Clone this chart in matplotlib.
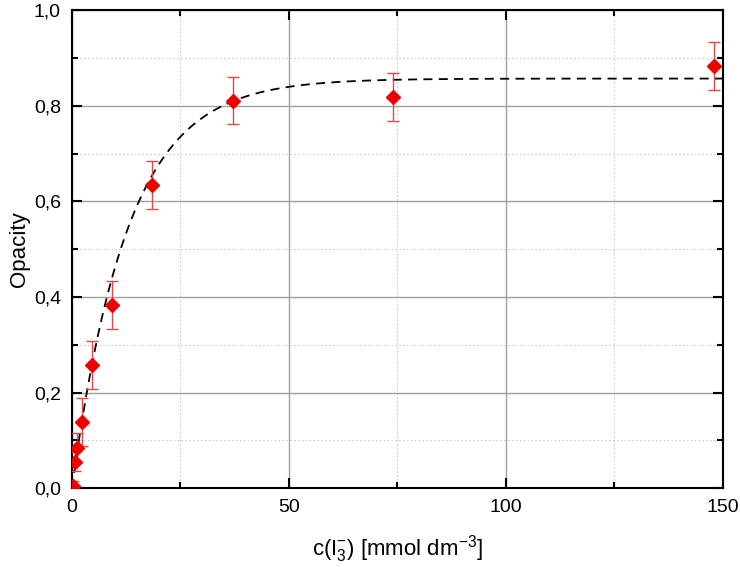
import numpy as np
import matplotlib
matplotlib.use('Agg')
import matplotlib.pyplot as plt
from matplotlib.ticker import MultipleLocator, FuncFormatter

# data
conc = [0.29, 0.58, 1.16, 2.31, 4.63, 9.25, 18.5, 37.0, 74.0, 148.0]
opacity = [0.004, 0.055, 0.085, 0.139, 0.258, 0.384, 0.634, 0.811, 0.818, 0.884]
err = [0.01, 0.02, 0.03, 0.05, 0.05, 0.05, 0.05, 0.05, 0.05, 0.05]

# fitted saturation curve  y = A * (1 - exp(-x / tau))
fit_A = 0.857
fit_tau = 12.8

plt.rcParams['font.family'] = ['Liberation Sans', 'DejaVu Sans']
plt.rcParams['mathtext.default'] = 'regular'

fig = plt.figure(figsize=(7.4, 5.67), dpi=100)
ax = fig.add_axes([0.0973, 0.139, 0.8797, 0.843])

xf = np.linspace(0, 150, 600)
ax.plot(xf, fit_A * (1 - np.exp(-xf / fit_tau)), ls=(0, (5, 3.5)), color='black', lw=1.3, zorder=3)

ax.errorbar(conc, opacity, yerr=err, fmt='none', ecolor='#e04848', elinewidth=1.0,
            capsize=4.5, capthick=1.0, zorder=4)
ax.plot(conc, opacity, 'D', color='#ee0000', markersize=7.5, zorder=5)

ax.set_xlim(0, 150)
ax.set_ylim(0, 1.0)
ax.xaxis.set_major_locator(MultipleLocator(50))
ax.xaxis.set_minor_locator(MultipleLocator(25))
ax.yaxis.set_major_locator(MultipleLocator(0.2))
ax.yaxis.set_minor_locator(MultipleLocator(0.1))
ax.yaxis.set_major_formatter(FuncFormatter(lambda v, p: f'{v:.1f}'.replace('.', ',')))

ax.grid(which='major', color='#a0a0a0', lw=1.0, ls='-')
ax.grid(which='minor', color='#cccccc', lw=0.8, ls=(0, (1.5, 2)))
ax.set_axisbelow(True)

ax.tick_params(which='both', direction='in', top=True, right=True, labelsize=14, width=1.5)
ax.tick_params(which='major', length=7, pad=8)
ax.tick_params(which='minor', length=4.5)
for s in ax.spines.values():
    s.set_linewidth(1.5)

ax.set_xlabel(r'c(I$_3^{-}$) [mmol dm$^{-3}$]', fontsize=16, labelpad=12)
ax.set_ylabel('Opacity', fontsize=16, labelpad=3)

fig.savefig('out.png', dpi=100)
